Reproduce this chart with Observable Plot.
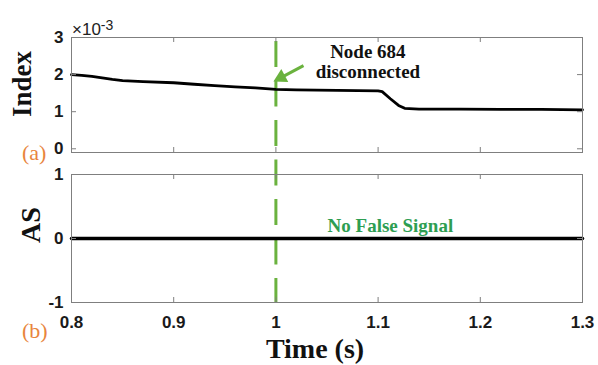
<!DOCTYPE html>
<html>
<head>
<meta charset="utf-8">
<script src="https://cdn.jsdelivr.net/npm/d3@7"></script>
<script src="https://cdn.jsdelivr.net/npm/@observablehq/plot@0.6"></script>
<style>
  html, body { margin: 0; padding: 0; background: white; }
  #wrap { position: relative; width: 598px; height: 365px; overflow: hidden; background: white; }
  .panel { position: absolute; left: 0; }
  .lbl { position: absolute; white-space: nowrap; line-height: 1; }
  .serifb { font-family: "Liberation Serif", "Times New Roman", serif; font-weight: bold; color: #111; }
  .rot { transform: translate(-50%, -50%) rotate(-90deg); }
  .tag { font-family: "Liberation Serif", "Times New Roman", serif; color: #e8853d; font-size: 22px; }
</style>
</head>
<body>
<div id="wrap">
  <div id="p1" class="panel" style="top:0px"></div>
  <div id="p2" class="panel" style="top:160px"></div>
  <div class="lbl serifb rot" style="left:22px; top:84px; font-size:27px;">Index</div>
  <div class="lbl serifb rot" style="left:31px; top:225px; font-size:28px;">AS</div>
  <div class="lbl serifb" style="left:315px; top:335px; font-size:28px; transform:translateX(-50%);">Time (s)</div>
  <div class="lbl tag" style="left:22px; top:142px;">(a)</div>
  <div class="lbl tag" style="left:22px; top:320px;">(b)</div>
  <div class="lbl" style="left:72px; top:18px; font-family:'Liberation Sans',Arial,sans-serif; font-size:17px; color:#222;">×10<sup style="font-size:14px; vertical-align:5px;">-3</sup></div>
</div>
<script>
// ---- data ----
const indexTime = [0.80, 0.81, 0.82, 0.83, 0.84, 0.85, 0.87, 0.90, 0.92, 0.94, 0.96, 0.98, 1.00, 1.02, 1.04, 1.06, 1.08, 1.10, 1.104, 1.112, 1.120, 1.126, 1.14, 1.18, 1.22, 1.26, 1.30];
const indexValue = [2.00e-3, 1.98e-3, 1.95e-3, 1.91e-3, 1.87e-3, 1.84e-3, 1.81e-3, 1.78e-3, 1.74e-3, 1.70e-3, 1.67e-3, 1.64e-3, 1.60e-3, 1.59e-3, 1.58e-3, 1.575e-3, 1.57e-3, 1.56e-3, 1.54e-3, 1.35e-3, 1.17e-3, 1.09e-3, 1.07e-3, 1.07e-3, 1.06e-3, 1.06e-3, 1.05e-3];
const asTime = [0.80, 1.30];
const asValue = [0, 0];
const eventTime = [1.0];
const xTicks = [0.8, 0.9, 1.0, 1.1, 1.2, 1.3];
const xTickLabels = ["0.8", "0.9", "1", "1.1", "1.2", "1.3"];
const indexTicks = [0, 0.001, 0.002, 0.003];
const indexTickLabels = ["0", "1", "2", "3"];
const asTicks = [-1, 0, 1];
const asTickLabels = ["-1", "0", "1"];
// annotations (data coordinates)
const noteText = ["Node 684", "disconnected"];
const noteX = [1.09, 1.09];
const noteY = [2.62e-3, 2.08e-3];
const arrowTail = [1.027, 2.24e-3];
const arrowHead = [1.005, 1.92e-3];
const asNote = ["No False Signal"];
const asNoteX = [1.112];
const asNoteY = [0.19];

const indexData = indexTime.map((t, i) => ({t, v: indexValue[i]}));
const asData = asTime.map((t, i) => ({t, v: asValue[i]}));

const GREEN_DASH = "#6ab23e";
const GREEN_TEXT = "#2e9e52";
const FRAME = "#7f7f7f";
const W = 598, ML = 71, MR = 16;
const commonStyle = {fontFamily: "'Liberation Sans', Arial, sans-serif", fontSize: "17px", fontWeight: "bold", background: "white", color: "#1a1a1a", overflow: "visible"};

// ---- panel (a) ----
const h1 = 160, mt1 = 37, mb1 = 8;
const fh1 = h1 - mt1 - mb1;
const fw = W - ML - MR;
const p1 = Plot.plot({
  width: W, height: h1, marginTop: mt1, marginBottom: mb1, marginLeft: ML, marginRight: MR,
  style: commonStyle,
  x: {domain: [0.8, 1.3], axis: null, label: null},
  y: {domain: [-0.0001, 0.003], ticks: indexTicks, tickFormat: d => indexTickLabels[indexTicks.indexOf(d)], tickSize: 0, tickPadding: 8, label: null},
  marks: [
    Plot.ruleX(eventTime, {x: d => d, stroke: GREEN_DASH, strokeWidth: 3, strokeDasharray: "26,13.5", strokeDashoffset: 35.5, insetBottom: -mb1}),
    Plot.line(indexData, {x: "t", y: "v", stroke: "black", strokeWidth: 2.8}),
    Plot.tickX(xTicks, {x: d => d, stroke: FRAME, insetTop: fh1 - 5}),
    Plot.tickX(xTicks, {x: d => d, stroke: FRAME, insetBottom: fh1 - 5}),
    Plot.tickY(indexTicks, {y: d => d, stroke: FRAME, insetRight: fw - 5}),
    Plot.tickY(indexTicks, {y: d => d, stroke: FRAME, insetLeft: fw - 5}),
    Plot.link([0], {x1: () => arrowTail[0], y1: () => arrowTail[1], x2: () => arrowHead[0], y2: () => arrowHead[1], stroke: GREEN_DASH, strokeWidth: 3}),
    Plot.dot([0], {x: () => arrowHead[0], y: () => arrowHead[1], symbol: "triangle", r: 5.5, fill: GREEN_DASH, stroke: "none", rotate: 242}),
    Plot.text(noteText, {x: (d, i) => noteX[i], y: (d, i) => noteY[i], text: d => d, fontFamily: "'Liberation Serif', 'Times New Roman', serif", fontSize: 19, fontWeight: "bold", fill: "#111"}),
    Plot.frame({stroke: FRAME})
  ]
});
document.getElementById("p1").appendChild(p1);

// ---- panel (b) ----
const h2 = 205, mt2 = 14, mb2 = 63;
const fh2 = h2 - mt2 - mb2;
const p2 = Plot.plot({
  width: W, height: h2, marginTop: mt2, marginBottom: mb2, marginLeft: ML, marginRight: MR,
  style: commonStyle,
  x: {domain: [0.8, 1.3], ticks: xTicks, tickFormat: d => xTickLabels[xTicks.indexOf(d)], tickSize: 0, tickPadding: 13, label: null},
  y: {domain: [-1, 1], ticks: asTicks, tickFormat: d => asTickLabels[asTicks.indexOf(d)], tickSize: 0, tickPadding: 8, label: null},
  marks: [
    Plot.ruleX(eventTime, {x: d => d, stroke: GREEN_DASH, strokeWidth: 3, strokeDasharray: "26,13.5", strokeDashoffset: 0.5, insetTop: -mt2}),
    Plot.line(asData, {x: "t", y: "v", stroke: "black", strokeWidth: 3.5}),
    Plot.tickX(xTicks, {x: d => d, stroke: FRAME, insetTop: fh2 - 5}),
    Plot.tickX(xTicks, {x: d => d, stroke: FRAME, insetBottom: fh2 - 5}),
    Plot.tickY(asTicks, {y: d => d, stroke: FRAME, insetRight: fw - 5}),
    Plot.tickY(asTicks, {y: d => d, stroke: FRAME, insetLeft: fw - 5}),
    Plot.text(asNote, {x: (d, i) => asNoteX[i], y: (d, i) => asNoteY[i], text: d => d, fontFamily: "'Liberation Serif', 'Times New Roman', serif", fontSize: 19, fontWeight: "bold", fill: GREEN_TEXT}),
    Plot.frame({stroke: FRAME})
  ]
});
document.getElementById("p2").appendChild(p2);
</script>
</body>
</html>
